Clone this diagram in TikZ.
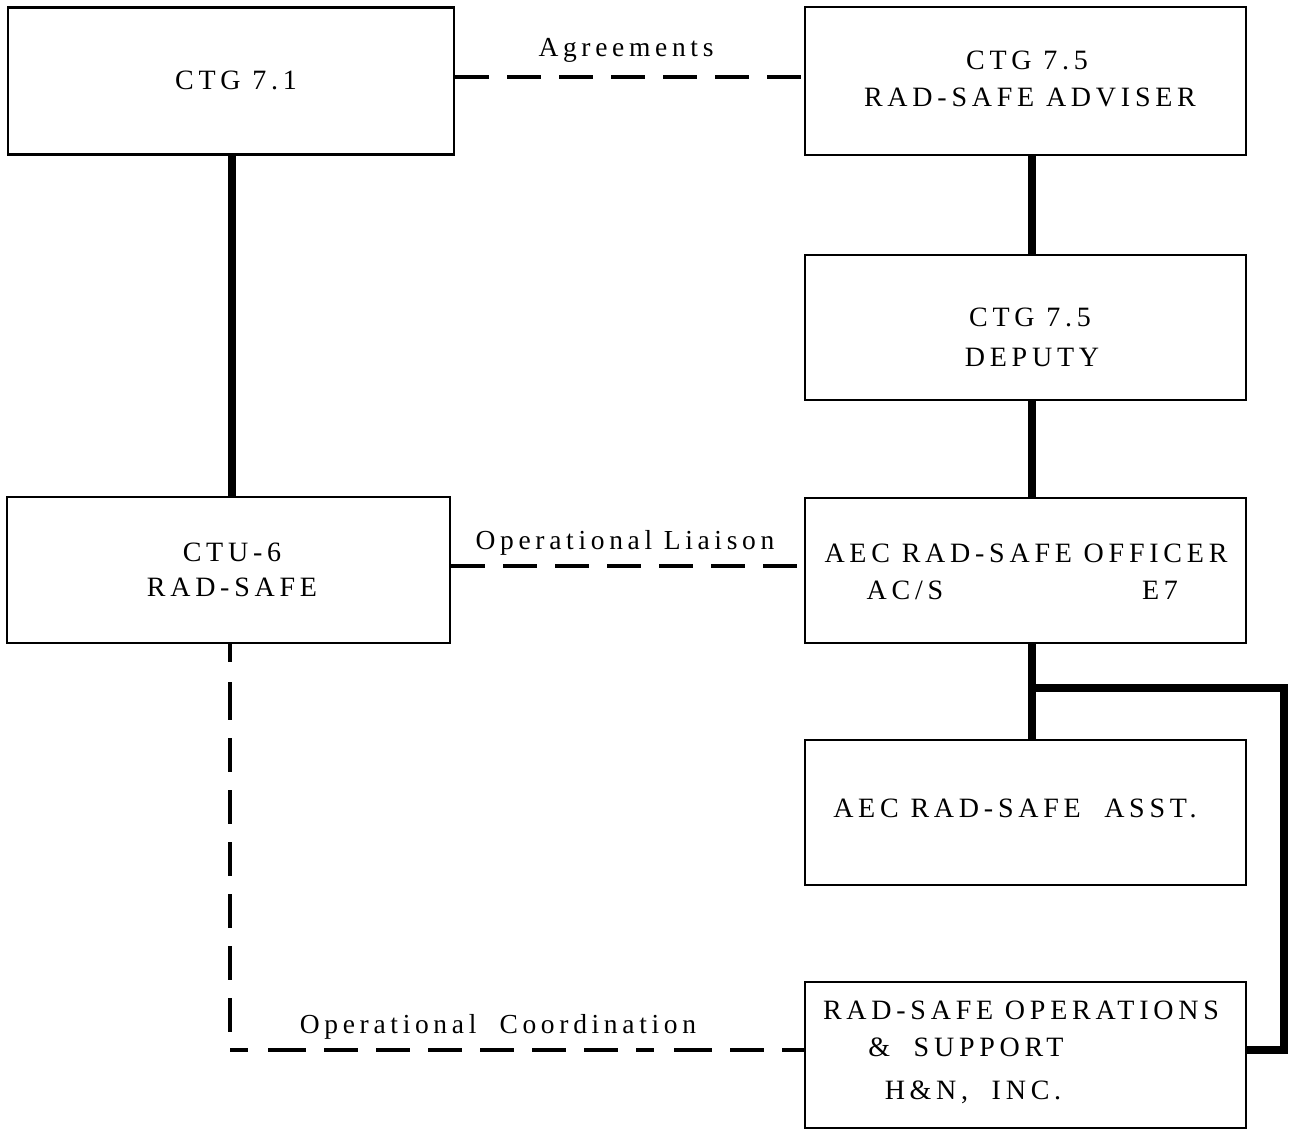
\documentclass[tikz,border=0pt]{standalone}
\usepackage{fontspec}
\setmainfont{Liberation Serif}[LetterSpace=17]
\begin{document}
\begin{tikzpicture}[x=1pt,y=-1pt,
  box/.style={draw, line width=2.8pt, inner sep=0pt},
  txt/.style={font=\fontsize{28}{37}\selectfont, align=center, inner sep=0pt},
  lbl/.style={font=\fontsize{27.5}{37}\selectfont, inner sep=0pt},
  thick line/.style={line width=8pt},
  dash line/.style={line width=3.8pt, dash pattern=on 34pt off 18pt}]
\useasboundingbox (0,0) rectangle (1290,1128);
% boxes
\node[box, minimum width=446pt, minimum height=147pt] (ctg71) at (231,81) {};
\node[box, minimum width=441pt, minimum height=148pt] (adv) at (1025.5,81) {};
\node[box, minimum width=441pt, minimum height=145pt] (dep) at (1025.5,327.5) {};
\node[box, minimum width=443pt, minimum height=146pt] (ctu) at (228.5,570) {};
\node[box, minimum width=441pt, minimum height=145pt] (off) at (1025.5,570.5) {};
\node[box, minimum width=441pt, minimum height=145pt] (asst) at (1025.5,812.5) {};
\node[box, minimum width=441pt, minimum height=146pt] (ops) at (1025.5,1055) {};
% texts
\node[txt] (t71) at (236,80) {CTG 7.\,1};
\node[txt] (tadv1) at (1027,60) {CTG 7.\,5};
\node[txt] (tadv2) at (1030,97) {RAD-SAFE ADVISER};
\node[txt] (tdep1) at (1030,317) {CTG 7.\,5};
\node[txt] (tdep2) at (1032,357) {DEPUTY};
\node[txt] (tctu1) at (232,552) {CTU-6};
\node[txt] (tctu2) at (232,587) {RAD-SAFE};
\node[txt] (toff1) at (1026,553) {AEC RAD-SAFE OFFICER};
\node[txt] (toff2) at (905,590) {AC/S};
\node[txt] (toff3) at (1160,590) {E7};
\node[txt] (tasst) at (1015,808) {AEC RAD-SAFE\ \ ASST.};
\node[txt] (tops1) at (1021,1010) {RAD-SAFE OPERATIONS};
\node[txt] (tops2) at (966,1047) {\&\ \ SUPPORT};
\node[txt] (tops3) at (973,1092) {H\&N,\ \ INC.};
% solid connectors
\draw[thick line] (ctg71.south -| 232,0) -- (ctu.north -| 232,0);
\draw[thick line] (adv.south -| 1032,0) -- (dep.north -| 1032,0);
\draw[thick line] (dep.south -| 1032,0) -- (off.north -| 1032,0);
\draw[thick line] (off.south -| 1032,0) -- (asst.north -| 1032,0);
\coordinate (br1) at (1032,688);
\coordinate (br2) at (1284,688);
\coordinate (br3) at (1284,1050);
\draw[thick line, line cap=butt] (br1) -- (br2) -- (br3) -- (ops.east |- br3);
% dashed connectors
\draw[dash line] (ctg71.east |- 0,77) -- (adv.west |- 0,77);
\draw[dash line] (ctu.east |- 0,566) -- (off.west |- 0,566);
\coordinate (cc) at (230,1050);
\draw[dash line, dash pattern=on 18pt off 20pt on 38pt off 18pt on 34pt off 18pt on 34pt off 18pt on 34pt off 18pt on 34pt off 18pt on 34pt off 18pt on 34pt off 18pt] (ctu.south -| cc) -- (cc) -- (ops.west |- cc);
% labels
\node[lbl] (lagr) at (626,50) {Agreements};
\node[lbl] (lliai) at (625,543) {Operational Liaison};
\node[lbl] (lcoord) at (498,1027) {Operational\ \ Coordination};
\end{tikzpicture}
\end{document}
